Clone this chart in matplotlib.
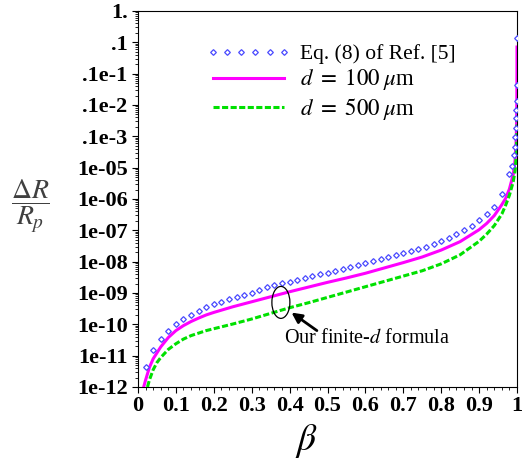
import numpy as np
import matplotlib
matplotlib.use('Agg')
import matplotlib.pyplot as plt
from matplotlib.patches import Ellipse
from matplotlib.ticker import FixedLocator, FixedFormatter, MultipleLocator, LogLocator, NullFormatter

plt.rcParams['font.family'] = ['Liberation Serif', 'DejaVu Serif']
plt.rcParams['mathtext.fontset'] = 'stix'

# ---- data (exponents = log10 of dR/Rp) ----
ref_beta = [0.02, 0.04, 0.06, 0.08, 0.10, 0.12, 0.14, 0.16, 0.18, 0.20,
            0.22, 0.24, 0.26, 0.28, 0.30, 0.32, 0.34, 0.36, 0.38, 0.40,
            0.42, 0.44, 0.46, 0.48, 0.50, 0.52, 0.54, 0.56, 0.58, 0.60,
            0.62, 0.64, 0.66, 0.68, 0.70, 0.72, 0.74, 0.76, 0.78, 0.80,
            0.82, 0.84, 0.86, 0.88, 0.90, 0.92, 0.94, 0.96, 0.98, 0.988,
            0.992, 0.994, 0.996, 0.997, 0.998, 0.9985, 0.999, 0.9995, 0.9999]
ref_exp = [-11.37, -10.82, -10.48, -10.20, -9.99, -9.84, -9.70, -9.57, -9.46, -9.36,
           -9.28, -9.19, -9.12, -9.06, -8.99, -8.90, -8.82, -8.75, -8.69, -8.64,
           -8.59, -8.51, -8.46, -8.39, -8.35, -8.30, -8.23, -8.18, -8.12, -8.05,
           -7.98, -7.92, -7.85, -7.79, -7.72, -7.66, -7.60, -7.53, -7.45, -7.35,
           -7.24, -7.13, -6.99, -6.85, -6.67, -6.48, -6.25, -5.85, -5.20, -4.94,
           -4.60, -4.33, -4.01, -3.74, -3.42, -3.16, -2.87, -2.36, -0.87]

d100_beta = [0.015, 0.02, 0.03, 0.04, 0.06, 0.08, 0.10, 0.12, 0.14, 0.16, 0.18,
             0.20, 0.25, 0.30, 0.35, 0.40, 0.45, 0.50, 0.55, 0.60, 0.65, 0.70,
             0.75, 0.80, 0.85, 0.90, 0.92, 0.94, 0.96, 0.97, 0.98, 0.99, 0.995,
             0.998, 0.999, 0.9995, 0.9999, 0.99999]
d100_exp = [-12.0, -11.78, -11.38, -11.10, -10.72, -10.42, -10.20, -10.04, -9.91, -9.80, -9.70,
            -9.62, -9.44, -9.28, -9.12, -8.96, -8.81, -8.66, -8.52, -8.37, -8.20, -8.03,
            -7.85, -7.63, -7.36, -6.98, -6.78, -6.53, -6.18, -5.98, -5.68, -5.22, -4.75,
            -4.05, -3.45, -2.85, -1.90, -1.15]

d500_beta = [0.025, 0.03, 0.04, 0.05, 0.06, 0.08, 0.10, 0.12, 0.14, 0.16, 0.18,
             0.20, 0.25, 0.30, 0.35, 0.40, 0.45, 0.50, 0.55, 0.60, 0.65, 0.70,
             0.75, 0.80, 0.85, 0.90, 0.92, 0.94, 0.96, 0.97, 0.98, 0.99, 0.995,
             0.998, 0.999, 0.9999]
d500_exp = [-12.0, -11.78, -11.45, -11.22, -11.06, -10.80, -10.62, -10.47, -10.36, -10.28, -10.20,
            -10.14, -9.99, -9.83, -9.65, -9.47, -9.31, -9.14, -8.97, -8.80, -8.63, -8.46,
            -8.29, -8.07, -7.78, -7.35, -7.12, -6.85, -6.48, -6.20, -5.88, -5.45, -5.10,
            -4.60, -4.20, -3.50]

ytick_exps = [0, -1, -2, -3, -4, -5, -6, -7, -8, -9, -10, -11, -12]
ytick_labels = ['1.', '.1', '.1e-1', '.1e-2', '.1e-3', '1e-05', '1e-06',
                '1e-07', '1e-08', '1e-09', '1e-10', '1e-11', '1e-12']
xtick_vals = [0, 0.1, 0.2, 0.3, 0.4, 0.5, 0.6, 0.7, 0.8, 0.9, 1.0]
xtick_labels = ['0', '0.1', '0.2', '0.3', '0.4', '0.5', '0.6', '0.7', '0.8', '0.9', '1']

leg_labels = ['Eq. (8) of Ref. [5]', r'$d\ =\ 100\;\mu$m', r'$d\ =\ 500\;\mu$m']

# ---- figure ----
W, H = 526, 462
fig = plt.figure(figsize=(W / 100, H / 100), dpi=100)
ax = fig.add_axes([138 / W, 75 / H, 379 / W, 376 / H])

blue = '#4848ff'
pink = '#ff00ff'
green = '#00e000'

l1, = ax.plot(ref_beta, 10.0 ** np.array(ref_exp), linestyle='none', marker='D',
              markersize=2.9, mfc='white', mec=blue, mew=0.9, zorder=5)
l2, = ax.plot(d100_beta, 10.0 ** np.array(d100_exp), color=pink, lw=2.2, zorder=3)
l3, = ax.plot(d500_beta, 10.0 ** np.array(d500_exp), color=green, lw=2.2,
              dashes=(2.0, 0.8), zorder=4)

ax.set_yscale('log')
ax.set_xlim(0, 1)
ax.set_ylim(1e-12, 1)

ax.yaxis.set_major_locator(FixedLocator([10.0 ** e for e in ytick_exps]))
ax.yaxis.set_major_formatter(FixedFormatter(ytick_labels))
ax.yaxis.set_minor_locator(LogLocator(base=10, subs=np.arange(2, 10), numticks=100))
ax.yaxis.set_minor_formatter(NullFormatter())
ax.xaxis.set_major_locator(FixedLocator(xtick_vals))
ax.xaxis.set_major_formatter(FixedFormatter(xtick_labels))
ax.xaxis.set_minor_locator(MultipleLocator(0.02))

ax.tick_params(which='major', direction='out', length=4.5, width=0.8,
               labelsize=16, pad=3)
ax.tick_params(which='minor', direction='out', length=2.5, width=0.6)
for lab in ax.get_xticklabels() + ax.get_yticklabels():
    lab.set_fontweight('bold')
ax.tick_params(axis='x', pad=2)
for s in ax.spines.values():
    s.set_linewidth(0.8)

# axis labels
fig.text(30 / W, 1 - 206 / H, r'$\dfrac{\Delta R}{R_p}$', fontsize=20,
         color='#404040', ha='center', va='center')
fig.text(306 / W, 1 - 441 / H, r'$\beta$', fontsize=27, ha='center', va='center')

# legend
leg = ax.legend([l1, l2, l3], leg_labels, loc='upper left',
                bbox_to_anchor=(0.18, 0.912), frameon=False, fontsize=15.5,
                numpoints=6, handlelength=3.9, handletextpad=0.45,
                labelspacing=0.15, borderpad=0, borderaxespad=0)
texts = leg.get_texts()
texts[1].set_fontsize(16.5)
texts[2].set_fontsize(16.5)

# annotation
ax.add_patch(Ellipse((0.377, 0.225), 0.0475, 0.085, transform=ax.transAxes,
                     fill=False, edgecolor='black', lw=0.9, zorder=6))
ax.annotate('', xy=(0.405, 0.198), xytext=(0.472, 0.150),
            xycoords='axes fraction', textcoords='axes fraction',
            arrowprops=dict(arrowstyle='-|>,head_length=0.6,head_width=0.3',
                            color='black', lw=2.0, shrinkA=0, shrinkB=0))
ax.text(0.604, 0.130, 'Our finite-$d$ formula', transform=ax.transAxes,
        fontsize=14.5, ha='center', va='center')

fig.savefig('out.png', dpi=100)
